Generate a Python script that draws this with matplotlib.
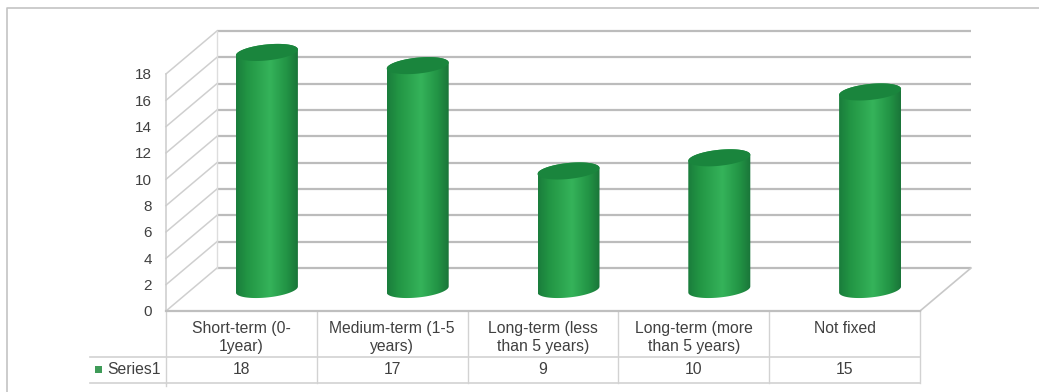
import numpy as np
import matplotlib
matplotlib.use('Agg')
import matplotlib.pyplot as plt
from matplotlib.colors import LinearSegmentedColormap
from matplotlib.lines import Line2D
from matplotlib.patches import PathPatch, Rectangle
from matplotlib.path import Path
from matplotlib.transforms import Affine2D

plt.rcParams['font.family'] = ['Liberation Sans', 'DejaVu Sans']

categorias = ['Short-term (0-\n1year)', 'Medium-term (1-5\nyears)', 'Long-term (less\nthan 5 years)',
              'Long-term (more\nthan 5 years)', 'Not fixed']
valores = [18, 17, 9, 10, 15]
serie = 'Series1'
yticks = list(range(0, 20, 2))

W, H = 1039, 392
# pixels por categoria y por unidad del eje
PX_X = 150.8
PX_Y = 13.17
X0, Y0 = 166, 311
# profundidad de la caja 3D, en unidades de datos
DX = 51 / PX_X
DY = 43 / PX_Y
RADIO_X = 31 / PX_X
RADIO_Y = 8 / PX_Y
INCLINA = 3 / PX_Y
FILA1 = -46 / PX_Y
FILA2 = -72 / PX_Y
TEXT = '#404040'

verdes = LinearSegmentedColormap.from_list('cilindro', [
    (0.0, '#1a7d3c'), (0.18, '#229544'), (0.55, '#35b35a'), (0.82, '#229445'), (1.0, '#1a7539')])


def cilindro(ax, centro, valor):
    x = centro + DX / 2
    base = DY / 2
    t = np.linspace(0, 2 * np.pi, 80)
    tapa_x = x + RADIO_X * np.cos(t)
    tapa_y = base + valor + RADIO_Y * np.sin(t) + INCLINA * np.cos(t)

    # cuerpo: arco inferior de la base y arco superior de la tapa
    t1 = np.linspace(np.pi, 2 * np.pi, 40)
    t2 = np.linspace(0, np.pi, 40)
    cuerpo_x = np.r_[x + RADIO_X * np.cos(t1), x + RADIO_X * np.cos(t2)]
    cuerpo_y = np.r_[base + RADIO_Y * np.sin(t1) + INCLINA * np.cos(t1),
                     base + valor + RADIO_Y * np.sin(t2) + INCLINA * np.cos(t2)]
    forma = PathPatch(Path(np.c_[cuerpo_x, cuerpo_y]), fc='none', ec='none', transform=ax.transData)
    ax.add_patch(forma)
    gradiente = np.linspace(0, 1, 128).reshape(1, -1)
    img = ax.imshow(gradiente, cmap=verdes, aspect='auto', zorder=3, interpolation='bilinear',
                    extent=(x - RADIO_X, x + RADIO_X, base - RADIO_Y - INCLINA, base + valor + RADIO_Y + INCLINA))
    img.set_clip_path(forma)
    ax.fill(tapa_x, tapa_y, color='#1a853d', lw=0, zorder=4)


def caja(ax):
    # paredes del fondo y lineas de grilla
    for y in yticks:
        ax.plot([DX, 5 + DX], [y + DY, y + DY], color='#bcbcbc', lw=1.6, zorder=1, solid_capstyle='butt')
        ax.plot([0, DX], [y, y + DY], color='#cfcfcf', lw=1.1, zorder=1)
    ax.plot([DX, DX], [DY, 18 + DY], color='#dddddd', lw=1, zorder=1)
    ax.plot([5, 5 + DX], [0, DY], color='#c8c8c8', lw=1.2, zorder=1)
    ax.plot([0, 0], [0, 18], color='#cccccc', lw=1.1, zorder=1)
    ax.plot([0, 5], [0, 0], color='#bfbfbf', lw=1.6, zorder=2)


def tabla(ax):
    for i in range(6):
        ax.plot([i, i], [0, FILA2], color='#d2d2d2', lw=1, zorder=1)
    ax.plot([0, 0], [FILA2, FILA2 - 0.25], color='#d2d2d2', lw=1, zorder=1)
    izquierda = -76 / PX_X
    ax.plot([izquierda, 5], [FILA1, FILA1], color='#d2d2d2', lw=1.2, zorder=1)
    ax.plot([izquierda, 5], [FILA2, FILA2], color='#d2d2d2', lw=1.2, zorder=1)
    for i, (cat, val) in enumerate(zip(categorias, valores)):
        ax.text(i + 0.5, -0.75, cat, ha='center', va='top', fontsize=11.3, color=TEXT, linespacing=1.3)
        ax.text(i + 0.5, (FILA1 + FILA2) / 2, str(val), ha='center', va='center', fontsize=11.3, color=TEXT)
    ax.add_patch(Rectangle((-71 / PX_X, FILA1 - 9 / PX_Y), 7 / PX_X, -7 / PX_Y, fc='#3f9b58', ec='none'))
    ax.text(-59 / PX_X, (FILA1 + FILA2) / 2, serie, ha='left', va='center', fontsize=11.3, color=TEXT)


def main():
    fig = plt.figure(figsize=(W / 100, H / 100), dpi=100, facecolor='white')
    ax = fig.add_axes([0, 0, 1, 1])
    ax.axis('off')

    caja(ax)
    tabla(ax)
    for i, v in enumerate(valores):
        cilindro(ax, i + 0.5, v)
    for y in yticks:
        ax.text(-14 / PX_X, y - 0.1, str(y), ha='right', va='center', fontsize=11, color=TEXT)

    ax.set_xlim(-X0 / PX_X, (W - X0) / PX_X)
    ax.set_ylim((Y0 - H) / PX_Y, Y0 / PX_Y)

    # marco exterior, en pixeles con origen arriba a la izquierda
    pixeles = Affine2D().scale(1, -1).translate(0, H)
    fig.add_artist(Line2D([7, 7, W], [H, 8, 8], color='#c4c4c4', lw=1.2, transform=pixeles))

    fig.savefig('out.png', dpi=100)


if __name__ == '__main__':
    main()
